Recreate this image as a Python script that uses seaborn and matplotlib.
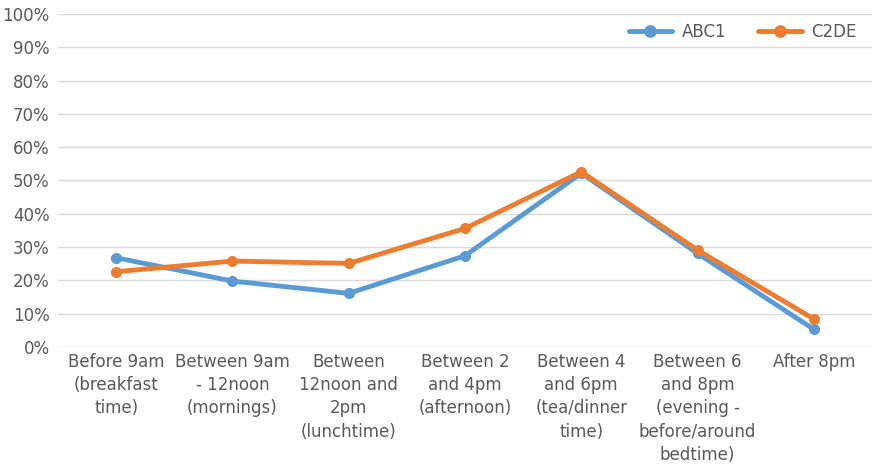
import matplotlib
matplotlib.use("Agg")
import matplotlib.pyplot as plt
import seaborn as sns
import pandas as pd
from matplotlib.ticker import PercentFormatter, MultipleLocator
from matplotlib import font_manager

categories = [
    "Before 9am\n(breakfast\ntime)",
    "Between 9am\n- 12noon\n(mornings)",
    "Between\n12noon and\n2pm\n(lunchtime)",
    "Between 2\nand 4pm\n(afternoon)",
    "Between 4\nand 6pm\n(tea/dinner\ntime)",
    "Between 6\nand 8pm\n(evening -\nbefore/around\nbedtime)",
    "After 8pm",
]
abc1 = [26.8, 19.8, 16.1, 27.4, 52.2, 28.1, 5.3]
c2de = [22.6, 25.8, 25.1, 35.6, 52.6, 29.1, 8.4]
series_names = ["ABC1", "C2DE"]
colors = ["#5B9BD5", "#ED7D31"]

names = {f.name for f in font_manager.fontManager.ttflist}
family = "Liberation Sans Narrow" if "Liberation Sans Narrow" in names else "DejaVu Sans"

sns.set_theme(style="white")
plt.rcParams["font.family"] = [family, "DejaVu Sans"]

df = pd.DataFrame({
    "pos": list(range(len(categories))) * 2,
    "value": abc1 + c2de,
    "group": [series_names[0]] * len(abc1) + [series_names[1]] * len(c2de),
})

fig = plt.figure(figsize=(8.74, 4.68), dpi=100)
ax = fig.add_axes([58 / 874, 121 / 468, 814 / 874, 333 / 468])

sns.lineplot(data=df, x="pos", y="value", hue="group", palette=colors,
             marker="o", markersize=8, markeredgewidth=0, linewidth=3.5,
             ax=ax, zorder=3)

ax.set_xlim(-0.5, len(categories) - 0.5)
ax.set_ylim(0, 100)
ax.yaxis.set_major_locator(MultipleLocator(10))
ax.yaxis.set_major_formatter(PercentFormatter(decimals=0))
ax.set_xticks(range(len(categories)))
ax.set_xticklabels(categories, linespacing=1.38)
ax.grid(axis="y", color="#D9D9D9", linewidth=1)
ax.set_axisbelow(True)
for s in ax.spines.values():
    s.set_visible(False)
ax.tick_params(axis="both", length=0, labelsize=12, labelcolor="#595959")
ax.tick_params(axis="x", pad=4)
ax.tick_params(axis="y", pad=6)
ax.set_xlabel("")
ax.set_ylabel("")

leg = ax.legend(loc="center right", bbox_to_anchor=(1.0, 0.946), ncol=2, frameon=False,
                fontsize=12, handlelength=2.6, columnspacing=1.9, handletextpad=0.6,
                markerscale=1.15)
for t in leg.get_texts():
    t.set_color("#595959")

fig.savefig("out.png", dpi=100)
